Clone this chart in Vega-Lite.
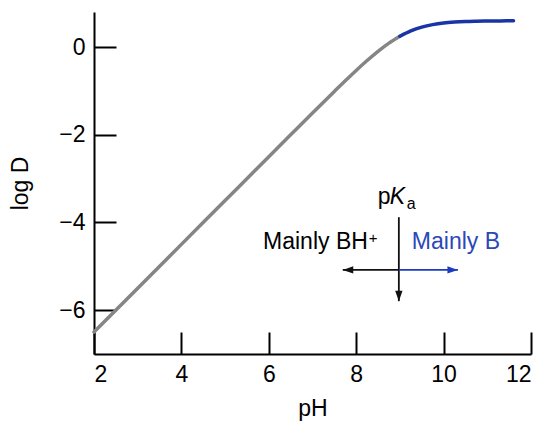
{
  "$schema": "https://vega.github.io/schema/vega-lite/v6.json",
  "width": 437,
  "height": 342,
  "autosize": {"type": "none"},
  "padding": {"left": 94, "top": 12, "right": 15, "bottom": 70},
  "background": "white",
  "config": {
    "view": {"stroke": null},
    "font": "Liberation Sans",
    "axis": {
      "grid": false,
      "domainColor": "black",
      "domainWidth": 2,
      "tickColor": "black",
      "tickWidth": 2,
      "tickSize": -22,
      "labelFont": "Liberation Sans",
      "labelFontSize": 23,
      "labelColor": "black",
      "titleFont": "Liberation Sans",
      "titleFontSize": 23,
      "titleFontWeight": "normal",
      "titleColor": "black"
    }
  },
  "datasets": {
    "curve": [
      {"pH": 2.0, "logD": -6.5, "form": "BH+"},
      {"pH": 3.0, "logD": -5.5, "form": "BH+"},
      {"pH": 4.0, "logD": -4.5, "form": "BH+"},
      {"pH": 5.0, "logD": -3.5, "form": "BH+"},
      {"pH": 6.0, "logD": -2.5, "form": "BH+"},
      {"pH": 6.5, "logD": -2.001, "form": "BH+"},
      {"pH": 7.0, "logD": -1.503, "form": "BH+"},
      {"pH": 7.5, "logD": -1.011, "form": "BH+"},
      {"pH": 7.75, "logD": -0.769, "form": "BH+"},
      {"pH": 8.0, "logD": -0.533, "form": "BH+"},
      {"pH": 8.25, "logD": -0.307, "form": "BH+"},
      {"pH": 8.5, "logD": -0.097, "form": "BH+"},
      {"pH": 8.75, "logD": 0.09, "form": "BH+"},
      {"pH": 9.0, "logD": 0.246, "form": "BH+"},
      {"pH": 9.0, "logD": 0.246, "form": "B"},
      {"pH": 9.25, "logD": 0.368, "form": "B"},
      {"pH": 9.5, "logD": 0.455, "form": "B"},
      {"pH": 9.75, "logD": 0.512, "form": "B"},
      {"pH": 10.0, "logD": 0.549, "form": "B"},
      {"pH": 10.25, "logD": 0.57, "form": "B"},
      {"pH": 10.5, "logD": 0.583, "form": "B"},
      {"pH": 10.75, "logD": 0.59, "form": "B"},
      {"pH": 11.0, "logD": 0.595, "form": "B"},
      {"pH": 11.3, "logD": 0.597, "form": "B"},
      {"pH": 11.6, "logD": 0.599, "form": "B"}
    ],
    "arrows": [
      {"dir": "down", "side": "arrow BH+", "x": 8.976, "y": -3.88, "x2": 8.976, "y2": -5.795},
      {"dir": "left", "side": "arrow BH+", "x": 8.976, "y": -5.083, "x2": 7.693, "y2": -5.083},
      {"dir": "right", "side": "arrow B", "x": 8.976, "y": -5.083, "x2": 10.328, "y2": -5.083}
    ],
    "anno": [
      {"pH": 8.976, "logD": -4.612, "pkaY": -3.589}
    ]
  },
  "layer": [
    {
      "data": {"name": "curve"},
      "mark": {"type": "line", "strokeWidth": 3.5, "interpolate": "monotone", "strokeCap": "round"},
      "encoding": {
        "x": {
          "field": "pH", "type": "quantitative",
          "scale": {"domain": [2, 12], "nice": false, "zero": false},
          "axis": {"values": [2, 4, 6, 8, 10, 12], "title": "pH", "labelPadding": 31, "titlePadding": 11}
        },
        "y": {
          "field": "logD", "type": "quantitative",
          "scale": {"domain": [-7, 0.8], "nice": false, "zero": false},
          "axis": {"values": [0, -2, -4, -6], "title": "log D", "labelPadding": 31, "titlePadding": 26}
        },
        "color": {
          "field": "form", "type": "nominal",
          "scale": {"domain": ["BH+", "B", "arrow BH+", "arrow B"], "range": ["#858585", "#1a34a6", "#111111", "#1a3cc0"]},
          "legend": null
        }
      }
    },
    {
      "data": {"name": "arrows"},
      "mark": {"type": "rule", "strokeWidth": 1.8},
      "encoding": {
        "x": {"field": "x", "type": "quantitative"},
        "x2": {"field": "x2"},
        "y": {"field": "y", "type": "quantitative"},
        "y2": {"field": "y2"},
        "color": {"field": "side", "type": "nominal", "legend": null}
      }
    },
    {
      "data": {"name": "arrows"},
      "mark": {"type": "point", "filled": true, "opacity": 1, "size": 110, "strokeWidth": 0},
      "encoding": {
        "x": {"field": "x2", "type": "quantitative"},
        "y": {"field": "y2", "type": "quantitative"},
        "shape": {
          "field": "dir", "type": "nominal",
          "scale": {"domain": ["down", "left", "right"], "range": ["M0,0L-0.7,-2L0.7,-2Z", "M0,0L2,-0.7L2,0.7Z", "M0,0L-2,-0.7L-2,0.7Z"]},
          "legend": null
        },
        "color": {"field": "side", "type": "nominal", "legend": null}
      }
    },
    {
      "data": {"name": "anno"},
      "mark": {"type": "text", "text": "Mainly BH", "align": "right", "baseline": "alphabetic", "dx": -31, "fontSize": 23, "font": "Liberation Sans", "color": "black"},
      "encoding": {"x": {"field": "pH", "type": "quantitative"}, "y": {"field": "logD", "type": "quantitative"}}
    },
    {
      "data": {"name": "anno"},
      "mark": {"type": "text", "text": "+", "align": "left", "baseline": "alphabetic", "dx": -30, "dy": -6, "fontSize": 15, "font": "Liberation Sans", "color": "black"},
      "encoding": {"x": {"field": "pH", "type": "quantitative"}, "y": {"field": "logD", "type": "quantitative"}}
    },
    {
      "data": {"name": "anno"},
      "mark": {"type": "text", "text": "Mainly B", "align": "left", "baseline": "alphabetic", "dx": 13, "fontSize": 23, "font": "Liberation Sans", "color": "#2a48b8"},
      "encoding": {"x": {"field": "pH", "type": "quantitative"}, "y": {"field": "logD", "type": "quantitative"}}
    },
    {
      "data": {"name": "anno"},
      "mark": {"type": "text", "text": "p", "align": "left", "baseline": "alphabetic", "dx": -21, "fontSize": 23, "font": "Liberation Sans", "color": "black"},
      "encoding": {"x": {"field": "pH", "type": "quantitative"}, "y": {"field": "pkaY", "type": "quantitative"}}
    },
    {
      "data": {"name": "anno"},
      "mark": {"type": "text", "text": "K", "align": "left", "baseline": "alphabetic", "dx": -9, "fontSize": 23, "fontStyle": "italic", "font": "Liberation Sans", "color": "black"},
      "encoding": {"x": {"field": "pH", "type": "quantitative"}, "y": {"field": "pkaY", "type": "quantitative"}}
    },
    {
      "data": {"name": "anno"},
      "mark": {"type": "text", "text": "a", "align": "left", "baseline": "alphabetic", "dx": 8, "dy": 5, "fontSize": 16, "font": "Liberation Sans", "color": "black"},
      "encoding": {"x": {"field": "pH", "type": "quantitative"}, "y": {"field": "pkaY", "type": "quantitative"}}
    }
  ]
}
